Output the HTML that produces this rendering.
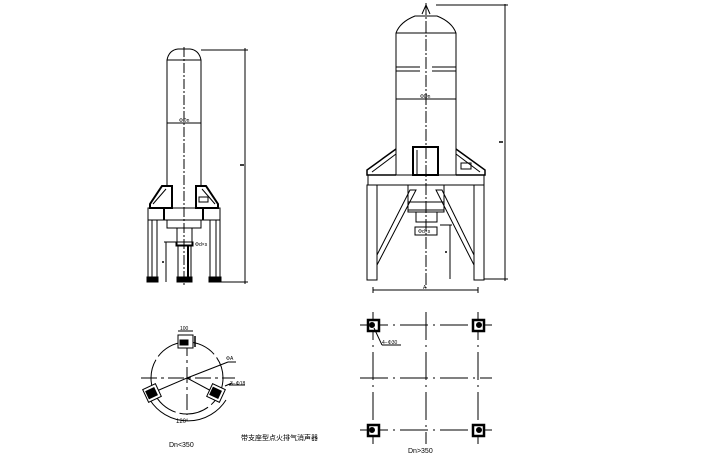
<!DOCTYPE html>
<html><head><meta charset="utf-8"><style>
html,body{margin:0;padding:0;background:#fff;}
svg{display:block;}
text{font-family:"Liberation Sans","Noto Sans CJK SC",sans-serif;fill:#000;}
</style></head><body>
<svg width="706" height="462" viewBox="0 0 706 462" xmlns="http://www.w3.org/2000/svg">
<g fill="none" stroke="#000" stroke-width="1">
<!-- LEFT ELEVATION -->
<path d="M167,187 L167,60 Q169,50 178,49 L190,49 Q199,50 201,60 L201,187"/>
<line x1="167" y1="60" x2="201" y2="60"/>
<line x1="184" y1="47" x2="184" y2="286" stroke-dasharray="10,2,2,2"/>
<line x1="167" y1="123" x2="201" y2="123"/>
<text x="179" y="122" font-size="5" stroke="none">ΦDn</text>
<path d="M167,186 L162,186 L150,204 L150,208 L172,208 L172,186 Z" stroke-width="2"/>
<line x1="153" y1="204" x2="166" y2="189"/>
<path d="M201,186 L206,186 L218,204 L218,208 L196,208 L196,186 Z" stroke-width="2"/>
<line x1="215" y1="204" x2="202" y2="189"/>
<rect x="199" y="197" width="9" height="5"/>
<rect x="148" y="208" width="72" height="12"/>
<line x1="164" y1="208" x2="164" y2="220" stroke-width="2"/>
<line x1="203" y1="208" x2="203" y2="220" stroke-width="2"/>
<rect x="167" y="220" width="34" height="8"/>
<rect x="177" y="228" width="15" height="17"/>
<rect x="176" y="242" width="17" height="4"/>
<rect x="148" y="220" width="9" height="60"/><line x1="152" y1="220" x2="152" y2="278"/>
<rect x="178" y="245" width="13" height="35"/><line x1="188" y1="245" x2="188" y2="278" stroke-width="2"/>
<rect x="210" y="220" width="10" height="60"/><line x1="216" y1="220" x2="216" y2="278"/>
<rect x="147" y="277" width="11" height="5" fill="#000"/>
<rect x="177" y="277" width="15" height="5" fill="#000"/>
<rect x="209" y="277" width="12" height="5" fill="#000"/>
<line x1="166" y1="242" x2="166" y2="282"/>
<line x1="164" y1="242" x2="176" y2="242"/>
<line x1="162" y1="262" x2="164" y2="262" stroke-width="1.5"/>
<text x="195" y="246" font-size="5" stroke="none">Φd×s</text>
<line x1="201" y1="50" x2="248" y2="50"/>
<line x1="220" y1="282" x2="248" y2="282"/>
<line x1="245" y1="48" x2="245" y2="284"/>
<line x1="240" y1="165" x2="244" y2="165" stroke-width="1.5"/>

<!-- RIGHT ELEVATION -->
<path d="M396,175 L396,33 Q400,22 415,16 L437,16 Q452,22 456,33 L456,175"/>
<line x1="396" y1="33" x2="456" y2="33"/>
<path d="M422,14 L426,5 L430,14"/>
<line x1="426" y1="3" x2="426" y2="288" stroke-dasharray="12,2,2,2"/>
<line x1="396" y1="67" x2="420" y2="67"/><line x1="432" y1="67" x2="456" y2="67"/>
<line x1="396" y1="71" x2="420" y2="71"/><line x1="432" y1="71" x2="456" y2="71"/>
<line x1="396" y1="99" x2="456" y2="99"/>
<text x="420" y="98" font-size="5" stroke="none">ΦDn</text>
<rect x="413" y="147" width="25" height="28" stroke-width="2"/>
<line x1="417" y1="150" x2="417" y2="175"/>
<path d="M396,149 L367,170 L367,175 L396,175" stroke-width="1.5"/>
<line x1="372" y1="172" x2="396" y2="154"/>
<path d="M456,149 L485,170 L485,175 L456,175" stroke-width="1.5"/>
<line x1="480" y1="172" x2="456" y2="154"/>
<rect x="461" y="163" width="10" height="6"/>
<rect x="368" y="175" width="116" height="10"/>
<rect x="367" y="185" width="10" height="95"/>
<rect x="474" y="185" width="10" height="95"/>
<path d="M377,255 L410,190 L416,190 L377,265"/>
<path d="M474,255 L442,190 L436,190 L474,265"/>
<path d="M408,185 L408,210 L444,210 L444,185"/>
<rect x="408" y="202" width="36" height="10"/>
<rect x="416" y="212" width="21" height="10"/>
<rect x="415" y="227" width="22" height="8"/>
<text x="418" y="233" font-size="5" stroke="none">Φd×s</text>
<line x1="450" y1="225" x2="450" y2="279"/>
<line x1="440" y1="225" x2="452" y2="225"/>
<line x1="445" y1="252" x2="447" y2="252" stroke-width="1.5"/>
<line x1="373" y1="290" x2="478" y2="290"/>
<line x1="373" y1="287" x2="373" y2="293"/><line x1="478" y1="287" x2="478" y2="293"/>
<text x="423" y="289" font-size="5" stroke="none">A</text>
<line x1="436" y1="5" x2="508" y2="5"/>
<line x1="484" y1="279" x2="508" y2="279"/>
<line x1="505" y1="4" x2="505" y2="281"/>
<line x1="499" y1="142" x2="503" y2="142" stroke-width="1.5"/>

<!-- BOTTOM LEFT PLAN -->
<line x1="141" y1="378" x2="235" y2="378" stroke-dasharray="16,4,3,4"/>
<line x1="187" y1="340" x2="187" y2="415" stroke-dasharray="16,4,3,4"/>
<circle cx="187" cy="378" r="36" stroke-dasharray="30,4"/>
<path d="M150,400 A45,45 0 0 0 226,400"/>
<text x="176" y="423" font-size="6" stroke="none">120°</text>
<line x1="187" y1="378" x2="228" y2="362"/>
<line x1="228" y1="362" x2="236" y2="362"/>
<text x="226" y="360" font-size="5" stroke="none">ΦA</text>
<line x1="187" y1="378" x2="152" y2="393"/>
<line x1="187" y1="378" x2="215" y2="393"/>
<rect x="178" y="335" width="15" height="13" fill="#fff"/>
<rect x="180" y="340" width="8" height="5" fill="#000"/>
<line x1="178" y1="331" x2="193" y2="331"/>
<text x="180" y="330" font-size="5" stroke="none">100</text>
<line x1="195" y1="336" x2="195" y2="347" stroke-width="1.5"/>
<g transform="rotate(-25 152 393)"><rect x="145" y="386" width="14" height="14" fill="#fff"/><rect x="147" y="389" width="9" height="8" fill="#000"/></g>
<g transform="rotate(25 216 393)"><rect x="209" y="386" width="14" height="14" fill="#fff"/><rect x="211" y="389" width="9" height="8" fill="#000"/></g>
<line x1="225" y1="386" x2="232" y2="383"/>
<text x="230" y="385" font-size="5" stroke="none">3−Φ18</text>
<line x1="229" y1="385" x2="245" y2="385"/>

<!-- BOTTOM RIGHT PLAN -->
<g stroke-dasharray="28,5,2,5">
<line x1="360" y1="325" x2="492" y2="325"/>
<line x1="360" y1="378" x2="492" y2="378"/>
<line x1="360" y1="430" x2="492" y2="430"/>
<line x1="373" y1="312" x2="373" y2="444"/>
<line x1="426" y1="312" x2="426" y2="444"/>
<line x1="478" y1="312" x2="478" y2="444"/>
</g>
<g stroke-width="2.5" fill="#fff">
<rect x="368" y="320" width="11" height="11"/>
<rect x="473" y="320" width="11" height="11"/>
<rect x="368" y="425" width="11" height="11"/>
<rect x="473" y="425" width="11" height="11"/>
</g>
<circle cx="372" cy="325" r="2.5" fill="#000"/>
<circle cx="372" cy="430" r="2.5" fill="#000"/>
<circle cx="479" cy="325" r="2.5" fill="#000"/>
<circle cx="479" cy="430" r="2.5" fill="#000"/>
<line x1="374" y1="328" x2="382" y2="345"/>
<line x1="382" y1="345" x2="401" y2="345"/>
<text x="382" y="344" font-size="5" stroke="none">4−Φ30</text>
</g>
<text x="169" y="447" font-size="7">Dn&lt;350</text>
<text x="408" y="453" font-size="7">Dn&gt;350</text>
<text x="241" y="440" font-size="7">带支座型点火排气消声器</text>
</svg>
</body></html>
